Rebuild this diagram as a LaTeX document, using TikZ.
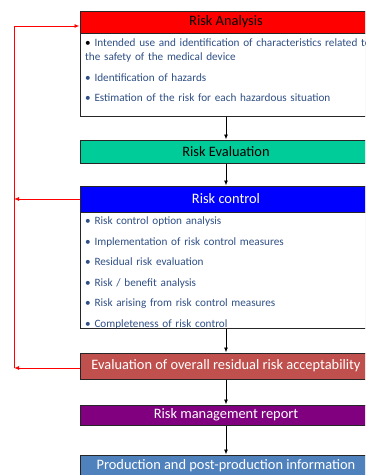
\documentclass[tikz,border=0pt]{standalone}
\usepackage{fontspec}
\setmainfont{Carlito}
\usetikzlibrary{arrows.meta,shadows}
\definecolor{hdred}{RGB}{255,0,0}
\definecolor{hdgreen}{RGB}{0,204,153}
\definecolor{hdblue}{RGB}{0,0,255}
\definecolor{hdrose}{RGB}{192,80,77}
\definecolor{hdpurple}{RGB}{128,0,128}
\definecolor{hdsteel}{RGB}{79,129,189}
\definecolor{itemblue}{RGB}{47,79,133}
\begin{document}
\begin{tikzpicture}[x=1pt,y=-1pt]
 \tikzset{directed/.style={-{Latex[length=5pt,width=4pt]}}}
 \tikzset{header/.style={draw=black!85, line width=1pt, minimum width=292pt, inner sep=0pt,
   font=\fontsize{14.4}{16}\selectfont, drop shadow={shadow xshift=0.6pt, shadow yshift=-1.2pt, opacity=0.35}}}
 \tikzset{bodybox/.style={draw=black!85, line width=1pt, minimum width=292pt, fill=white, inner sep=0pt,
   drop shadow={shadow xshift=0.6pt, shadow yshift=-1.2pt, opacity=0.35}}}
 \tikzset{bodytext/.style={anchor=north west, align=left, text width=320pt, inner sep=0pt,
   text=itemblue, font=\fontsize{11.2}{14}\selectfont}}
 \tikzset{feedback/.style={draw=red, line width=0.9pt, -{Latex[length=5pt,width=4pt]}}}
  \useasboundingbox (0,0) rectangle (365,475);
  \clip (0,0) rectangle (365,475);
  % header and body boxes
  \node[bodybox, minimum height=83pt] (RAbody) at (226,74.5) {};
  \node[header, fill=hdred, minimum height=22pt] (RA) at (226,22) {Risk Analysis};
  \node[header, fill=hdgreen, minimum height=23pt] (RE) at (226,151.5) {Risk Evaluation};
  \node[bodybox, minimum height=116pt] (RCbody) at (226,270) {};
  \node[header, fill=hdblue, text=white, minimum height=26pt] (RC) at (226,199) {Risk control};
  \node[header, fill=hdrose, text=white, minimum height=26pt] (EV) at (226,366) {Evaluation of overall residual risk acceptability};
  \node[header, fill=hdpurple, text=white, minimum height=20pt] (RM) at (226,415) {Risk management report};
  \node[header, fill=hdsteel, text=white, minimum height=22pt] (PP) at (226,466) {Production and post-production information};
  % bullet texts
  \node[bodytext] (RAtext) at (85,39) {\textcolor{black}{•} Intended use and identification of characteristics related to\\
    the safety of the medical device\\[6.5pt]
    • Identification of hazards\\[6.5pt]
    • Estimation of the risk for each hazardous situation};
  \node[bodytext, font=\fontsize{11.2}{20.5}\selectfont] (RCtext) at (85,217) {• Risk control option analysis\\
    • Implementation of risk control measures\\
    • Residual risk evaluation\\
    • Risk / benefit analysis\\
    • Risk arising from risk control measures\\
    • Completeness of risk control};
  % main flow
  \draw[line width=0.9pt, directed] (RAbody.south) -- (RE.north);
  \draw[line width=0.9pt, directed] (RE.south) -- (RC.north);
  \draw[line width=0.9pt, directed] (RCbody.south) -- (EV.north);
  \draw[line width=0.9pt, directed] (EV.south) -- (RM.north);
  \draw[line width=0.9pt, directed] (RM.south) -- (PP.north);
  % feedback loop
  \coordinate (loop) at (14,26);
  \draw[feedback] (RC.west) -- (RC.west -| loop);
  \draw[feedback] ([yshift=-2pt]EV.west) -- ([yshift=-2pt]EV.west -| loop);
  \draw[feedback] ([yshift=-2pt]EV.west -| loop) -- (loop) -- ([yshift=-4pt]RA.west);
\end{tikzpicture}
\end{document}
